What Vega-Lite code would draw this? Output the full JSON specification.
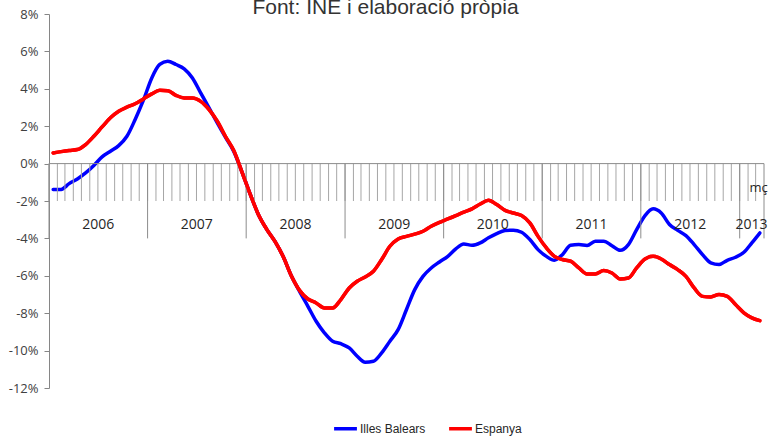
{
  "$schema": "https://vega.github.io/schema/vega-lite/v6.json",
  "width": 715,
  "height": 374,
  "autosize": {"type": "none"},
  "padding": {"left": 49, "top": 14, "right": 7, "bottom": 48},
  "background": "white",
  "title": {
    "text": "Font:  INE i elaboració pròpia",
    "font": "Liberation Sans Narrow, Liberation Sans, sans-serif",
    "fontSize": 21,
    "fontWeight": "normal",
    "color": "#333333",
    "anchor": "middle",
    "baseline": "alphabetic",
    "offset": 1,
    "dx": -21,
    "dy": 28
  },
  "datasets": {
    "m": [
      {"d":"2006-01-01","s":"Illes Balears","v":-1.39},{"d":"2006-02-01","s":"Illes Balears","v":-1.38},{"d":"2006-03-01","s":"Illes Balears","v":-1.07},{"d":"2006-04-01","s":"Illes Balears","v":-0.82},{"d":"2006-05-01","s":"Illes Balears","v":-0.5},{"d":"2006-06-01","s":"Illes Balears","v":-0.1},{"d":"2006-07-01","s":"Illes Balears","v":0.36},{"d":"2006-08-01","s":"Illes Balears","v":0.66},{"d":"2006-09-01","s":"Illes Balears","v":0.96},{"d":"2006-10-01","s":"Illes Balears","v":1.46},{"d":"2006-11-01","s":"Illes Balears","v":2.36},{"d":"2006-12-01","s":"Illes Balears","v":3.39},
      {"d":"2007-01-01","s":"Illes Balears","v":4.58},{"d":"2007-02-01","s":"Illes Balears","v":5.3},{"d":"2007-03-01","s":"Illes Balears","v":5.47},{"d":"2007-04-01","s":"Illes Balears","v":5.3},{"d":"2007-05-01","s":"Illes Balears","v":5.07},{"d":"2007-06-01","s":"Illes Balears","v":4.58},{"d":"2007-07-01","s":"Illes Balears","v":3.78},{"d":"2007-08-01","s":"Illes Balears","v":2.98},{"d":"2007-09-01","s":"Illes Balears","v":2.17},{"d":"2007-10-01","s":"Illes Balears","v":1.4},{"d":"2007-11-01","s":"Illes Balears","v":0.65},{"d":"2007-12-01","s":"Illes Balears","v":-0.45},
      {"d":"2008-01-01","s":"Illes Balears","v":-1.66},{"d":"2008-02-01","s":"Illes Balears","v":-2.73},{"d":"2008-03-01","s":"Illes Balears","v":-3.5},{"d":"2008-04-01","s":"Illes Balears","v":-4.15},{"d":"2008-05-01","s":"Illes Balears","v":-4.96},{"d":"2008-06-01","s":"Illes Balears","v":-6.0},{"d":"2008-07-01","s":"Illes Balears","v":-6.83},{"d":"2008-08-01","s":"Illes Balears","v":-7.63},{"d":"2008-09-01","s":"Illes Balears","v":-8.43},{"d":"2008-10-01","s":"Illes Balears","v":-9.05},{"d":"2008-11-01","s":"Illes Balears","v":-9.5},{"d":"2008-12-01","s":"Illes Balears","v":-9.63},
      {"d":"2009-01-01","s":"Illes Balears","v":-9.86},{"d":"2009-02-01","s":"Illes Balears","v":-10.3},{"d":"2009-03-01","s":"Illes Balears","v":-10.62},{"d":"2009-04-01","s":"Illes Balears","v":-10.57},{"d":"2009-05-01","s":"Illes Balears","v":-10.12},{"d":"2009-06-01","s":"Illes Balears","v":-9.5},{"d":"2009-07-01","s":"Illes Balears","v":-8.88},{"d":"2009-08-01","s":"Illes Balears","v":-7.8},{"d":"2009-09-01","s":"Illes Balears","v":-6.74},{"d":"2009-10-01","s":"Illes Balears","v":-6.03},{"d":"2009-11-01","s":"Illes Balears","v":-5.58},{"d":"2009-12-01","s":"Illes Balears","v":-5.26},
      {"d":"2010-01-01","s":"Illes Balears","v":-4.96},{"d":"2010-02-01","s":"Illes Balears","v":-4.56},{"d":"2010-03-01","s":"Illes Balears","v":-4.3},{"d":"2010-04-01","s":"Illes Balears","v":-4.37},{"d":"2010-05-01","s":"Illes Balears","v":-4.24},{"d":"2010-06-01","s":"Illes Balears","v":-3.97},{"d":"2010-07-01","s":"Illes Balears","v":-3.74},{"d":"2010-08-01","s":"Illes Balears","v":-3.58},{"d":"2010-09-01","s":"Illes Balears","v":-3.56},{"d":"2010-10-01","s":"Illes Balears","v":-3.67},{"d":"2010-11-01","s":"Illes Balears","v":-4.06},{"d":"2010-12-01","s":"Illes Balears","v":-4.6},
      {"d":"2011-01-01","s":"Illes Balears","v":-4.96},{"d":"2011-02-01","s":"Illes Balears","v":-5.17},{"d":"2011-03-01","s":"Illes Balears","v":-4.87},{"d":"2011-04-01","s":"Illes Balears","v":-4.37},{"d":"2011-05-01","s":"Illes Balears","v":-4.33},{"d":"2011-06-01","s":"Illes Balears","v":-4.38},{"d":"2011-07-01","s":"Illes Balears","v":-4.15},{"d":"2011-08-01","s":"Illes Balears","v":-4.15},{"d":"2011-09-01","s":"Illes Balears","v":-4.39},{"d":"2011-10-01","s":"Illes Balears","v":-4.64},{"d":"2011-11-01","s":"Illes Balears","v":-4.33},{"d":"2011-12-01","s":"Illes Balears","v":-3.53},
      {"d":"2012-01-01","s":"Illes Balears","v":-2.78},{"d":"2012-02-01","s":"Illes Balears","v":-2.42},{"d":"2012-03-01","s":"Illes Balears","v":-2.64},{"d":"2012-04-01","s":"Illes Balears","v":-3.26},{"d":"2012-05-01","s":"Illes Balears","v":-3.57},{"d":"2012-06-01","s":"Illes Balears","v":-3.85},{"d":"2012-07-01","s":"Illes Balears","v":-4.33},{"d":"2012-08-01","s":"Illes Balears","v":-4.87},{"d":"2012-09-01","s":"Illes Balears","v":-5.31},{"d":"2012-10-01","s":"Illes Balears","v":-5.4},{"d":"2012-11-01","s":"Illes Balears","v":-5.17},{"d":"2012-12-01","s":"Illes Balears","v":-5.01},
      {"d":"2013-01-01","s":"Illes Balears","v":-4.74},{"d":"2013-02-01","s":"Illes Balears","v":-4.24},{"d":"2013-03-01","s":"Illes Balears","v":-3.71},
      {"d":"2006-01-01","s":"Espanya","v":0.57},{"d":"2006-02-01","s":"Espanya","v":0.64},{"d":"2006-03-01","s":"Espanya","v":0.7},{"d":"2006-04-01","s":"Espanya","v":0.75},{"d":"2006-05-01","s":"Espanya","v":1.02},{"d":"2006-06-01","s":"Espanya","v":1.46},{"d":"2006-07-01","s":"Espanya","v":1.96},{"d":"2006-08-01","s":"Espanya","v":2.45},{"d":"2006-09-01","s":"Espanya","v":2.8},{"d":"2006-10-01","s":"Espanya","v":3.02},{"d":"2006-11-01","s":"Espanya","v":3.2},{"d":"2006-12-01","s":"Espanya","v":3.46},
      {"d":"2007-01-01","s":"Espanya","v":3.73},{"d":"2007-02-01","s":"Espanya","v":3.92},{"d":"2007-03-01","s":"Espanya","v":3.9},{"d":"2007-04-01","s":"Espanya","v":3.65},{"d":"2007-05-01","s":"Espanya","v":3.51},{"d":"2007-06-01","s":"Espanya","v":3.51},{"d":"2007-07-01","s":"Espanya","v":3.33},{"d":"2007-08-01","s":"Espanya","v":2.89},{"d":"2007-09-01","s":"Espanya","v":2.27},{"d":"2007-10-01","s":"Espanya","v":1.45},{"d":"2007-11-01","s":"Espanya","v":0.7},{"d":"2007-12-01","s":"Espanya","v":-0.45},
      {"d":"2008-01-01","s":"Espanya","v":-1.66},{"d":"2008-02-01","s":"Espanya","v":-2.73},{"d":"2008-03-01","s":"Espanya","v":-3.5},{"d":"2008-04-01","s":"Espanya","v":-4.15},{"d":"2008-05-01","s":"Espanya","v":-4.96},{"d":"2008-06-01","s":"Espanya","v":-6.0},{"d":"2008-07-01","s":"Espanya","v":-6.78},{"d":"2008-08-01","s":"Espanya","v":-7.24},{"d":"2008-09-01","s":"Espanya","v":-7.45},{"d":"2008-10-01","s":"Espanya","v":-7.72},{"d":"2008-11-01","s":"Espanya","v":-7.72},{"d":"2008-12-01","s":"Espanya","v":-7.27},
      {"d":"2009-01-01","s":"Espanya","v":-6.65},{"d":"2009-02-01","s":"Espanya","v":-6.29},{"d":"2009-03-01","s":"Espanya","v":-6.06},{"d":"2009-04-01","s":"Espanya","v":-5.76},{"d":"2009-05-01","s":"Espanya","v":-5.13},{"d":"2009-06-01","s":"Espanya","v":-4.42},{"d":"2009-07-01","s":"Espanya","v":-4.03},{"d":"2009-08-01","s":"Espanya","v":-3.89},{"d":"2009-09-01","s":"Espanya","v":-3.77},{"d":"2009-10-01","s":"Espanya","v":-3.62},{"d":"2009-11-01","s":"Espanya","v":-3.35},{"d":"2009-12-01","s":"Espanya","v":-3.14},
      {"d":"2010-01-01","s":"Espanya","v":-2.96},{"d":"2010-02-01","s":"Espanya","v":-2.78},{"d":"2010-03-01","s":"Espanya","v":-2.59},{"d":"2010-04-01","s":"Espanya","v":-2.42},{"d":"2010-05-01","s":"Espanya","v":-2.16},{"d":"2010-06-01","s":"Espanya","v":-1.96},{"d":"2010-07-01","s":"Espanya","v":-2.19},{"d":"2010-08-01","s":"Espanya","v":-2.5},{"d":"2010-09-01","s":"Espanya","v":-2.64},{"d":"2010-10-01","s":"Espanya","v":-2.78},{"d":"2010-11-01","s":"Espanya","v":-3.17},{"d":"2010-12-01","s":"Espanya","v":-3.89},
      {"d":"2011-01-01","s":"Espanya","v":-4.51},{"d":"2011-02-01","s":"Espanya","v":-4.96},{"d":"2011-03-01","s":"Espanya","v":-5.13},{"d":"2011-04-01","s":"Espanya","v":-5.22},{"d":"2011-05-01","s":"Espanya","v":-5.58},{"d":"2011-06-01","s":"Espanya","v":-5.9},{"d":"2011-07-01","s":"Espanya","v":-5.9},{"d":"2011-08-01","s":"Espanya","v":-5.72},{"d":"2011-09-01","s":"Espanya","v":-5.85},{"d":"2011-10-01","s":"Espanya","v":-6.17},{"d":"2011-11-01","s":"Espanya","v":-6.12},{"d":"2011-12-01","s":"Espanya","v":-5.58},
      {"d":"2012-01-01","s":"Espanya","v":-5.1},{"d":"2012-02-01","s":"Espanya","v":-4.96},{"d":"2012-03-01","s":"Espanya","v":-5.1},{"d":"2012-04-01","s":"Espanya","v":-5.4},{"d":"2012-05-01","s":"Espanya","v":-5.67},{"d":"2012-06-01","s":"Espanya","v":-6.03},{"d":"2012-07-01","s":"Espanya","v":-6.65},{"d":"2012-08-01","s":"Espanya","v":-7.1},{"d":"2012-09-01","s":"Espanya","v":-7.13},{"d":"2012-10-01","s":"Espanya","v":-7.0},{"d":"2012-11-01","s":"Espanya","v":-7.1},{"d":"2012-12-01","s":"Espanya","v":-7.54},
      {"d":"2013-01-01","s":"Espanya","v":-7.98},{"d":"2013-02-01","s":"Espanya","v":-8.25},{"d":"2013-03-01","s":"Espanya","v":-8.4}
    ],
    "yb": [
      {"d":"2006-01-01"},{"d":"2007-01-01"},{"d":"2008-01-01"},{"d":"2009-01-01"},{"d":"2010-01-01"},{"d":"2011-01-01"},{"d":"2012-01-01"},{"d":"2013-01-01"},{"d":"2013-04-01"}
    ],
    "yl": [
      {"t":"2006","c":"2006-07-02"},{"t":"2007","c":"2007-07-02"},{"t":"2008","c":"2008-07-02"},{"t":"2009","c":"2009-07-02"},{"t":"2010","c":"2010-07-02"},{"t":"2011","c":"2011-07-02"},{"t":"2012","c":"2012-07-02"},{"t":"2013","c":"2013-02-14"}
    ],
    "ml": [
      {"t":"mç","c":"2013-03-12"}
    ]
  },
  "layer": [
    {
      "data": {"name": "m"},
      "mark": {"type": "line", "interpolate": "monotone", "strokeWidth": 3.5, "strokeCap": "round", "strokeJoin": "round"},
      "encoding": {
        "x": {"field": "d", "type": "temporal", "timeUnit": "utcyearmonth", "bandPosition": 0.5, "axis": null,
              "scale": {"type": "utc", "nice": false, "domain": [{"year":2006,"month":1,"date":1,"utc":true},{"year":2013,"month":4,"date":1,"utc":true}]}},
        "y": {"field": "v", "type": "quantitative", "title": null,
              "scale": {"domain": [-12, 8], "nice": false, "zero": false},
              "axis": {"values": [-12,-10,-8,-6,-4,-2,0,2,4,6,8], "labelExpr": "datum.value + '%'", "title": null, "labelOverlap": false, "labelSeparation": 0}},
        "color": {"field": "s", "type": "nominal",
                  "scale": {"domain": ["Illes Balears", "Espanya"], "range": ["#0000ff", "#ff0000"]},
                  "legend": {"title": null, "orient": "none", "direction": "horizontal", "legendX": 283, "legendY": 401,
                             "symbolType": "stroke", "symbolStrokeWidth": 3.5, "symbolSize": 520,
                             "labelFont": "Liberation Sans Narrow, Liberation Sans, sans-serif", "labelFontSize": 12,
                             "labelColor": "#262626", "labelOffset": 1, "columnPadding": 16}}
      }
    },
    {
      "data": {"name": "m"},
      "transform": [{"filter": "datum.s === 'Espanya'"}],
      "mark": {"type": "rule", "color": "#a6a6a6", "strokeWidth": 1},
      "encoding": {
        "x": {"field": "d", "type": "temporal", "timeUnit": "utcyearmonth", "bandPosition": 0},
        "y": {"datum": 0, "type": "quantitative", "axis": {"values": [-12,-10,-8,-6,-4,-2,0,2,4,6,8], "labelExpr": "datum.value + '%'", "title": null, "labelOverlap": false, "labelSeparation": 0}},
        "y2": {"datum": -2}
      }
    },
    {
      "data": {"name": "yb"},
      "mark": {"type": "rule", "color": "#8c8c8c", "strokeWidth": 1},
      "encoding": {
        "x": {"field": "d", "type": "temporal"},
        "y": {"datum": 0, "type": "quantitative", "axis": {"values": [-12,-10,-8,-6,-4,-2,0,2,4,6,8], "labelExpr": "datum.value + '%'", "title": null, "labelOverlap": false, "labelSeparation": 0}},
        "y2": {"datum": -4}
      }
    },
    {
      "data": {"values": [{}]},
      "mark": {"type": "rule", "color": "#8c8c8c", "strokeWidth": 1},
      "encoding": {
        "y": {"datum": 0, "type": "quantitative", "axis": {"values": [-12,-10,-8,-6,-4,-2,0,2,4,6,8], "labelExpr": "datum.value + '%'", "title": null, "labelOverlap": false, "labelSeparation": 0}}
      }
    },
    {
      "data": {"name": "yl"},
      "mark": {"type": "text", "font": "Open Sans", "fontSize": 14, "color": "#262626", "baseline": "middle", "align": "center"},
      "encoding": {
        "x": {"field": "c", "type": "temporal"},
        "y": {"datum": -3.3, "type": "quantitative", "axis": {"values": [-12,-10,-8,-6,-4,-2,0,2,4,6,8], "labelExpr": "datum.value + '%'", "title": null, "labelOverlap": false, "labelSeparation": 0}},
        "text": {"field": "t"}
      }
    },
    {
      "data": {"name": "ml"},
      "mark": {"type": "text", "font": "Open Sans", "fontSize": 13, "color": "#262626", "baseline": "middle", "align": "center"},
      "encoding": {
        "x": {"field": "c", "type": "temporal"},
        "y": {"datum": -1.3, "type": "quantitative", "axis": {"values": [-12,-10,-8,-6,-4,-2,0,2,4,6,8], "labelExpr": "datum.value + '%'", "title": null, "labelOverlap": false, "labelSeparation": 0}},
        "text": {"field": "t"}
      }
    },
    {
      "data": {"name": "m"},
      "transform": [{"filter": "datum.s === 'Espanya'"}],
      "mark": {"type": "line", "interpolate": "monotone", "strokeWidth": 3.5, "strokeCap": "round", "strokeJoin": "round", "color": "#ff0000"},
      "encoding": {
        "x": {"field": "d", "type": "temporal", "timeUnit": "utcyearmonth", "bandPosition": 0.5},
        "y": {"field": "v", "type": "quantitative", "axis": {"values": [-12,-10,-8,-6,-4,-2,0,2,4,6,8], "labelExpr": "datum.value + '%'", "title": null, "labelOverlap": false, "labelSeparation": 0}}
      }
    }
  ],
  "config": {
    "view": {"stroke": null},
    "axisY": {
      "grid": false, "labelOverlap": false,
      "domainColor": "#868686", "tickColor": "#868686", "tickSize": 5, "labelPadding": 6,
      "labelFont": "Open Sans", "labelFontSize": 13, "labelColor": "#404040"
    }
  }
}
